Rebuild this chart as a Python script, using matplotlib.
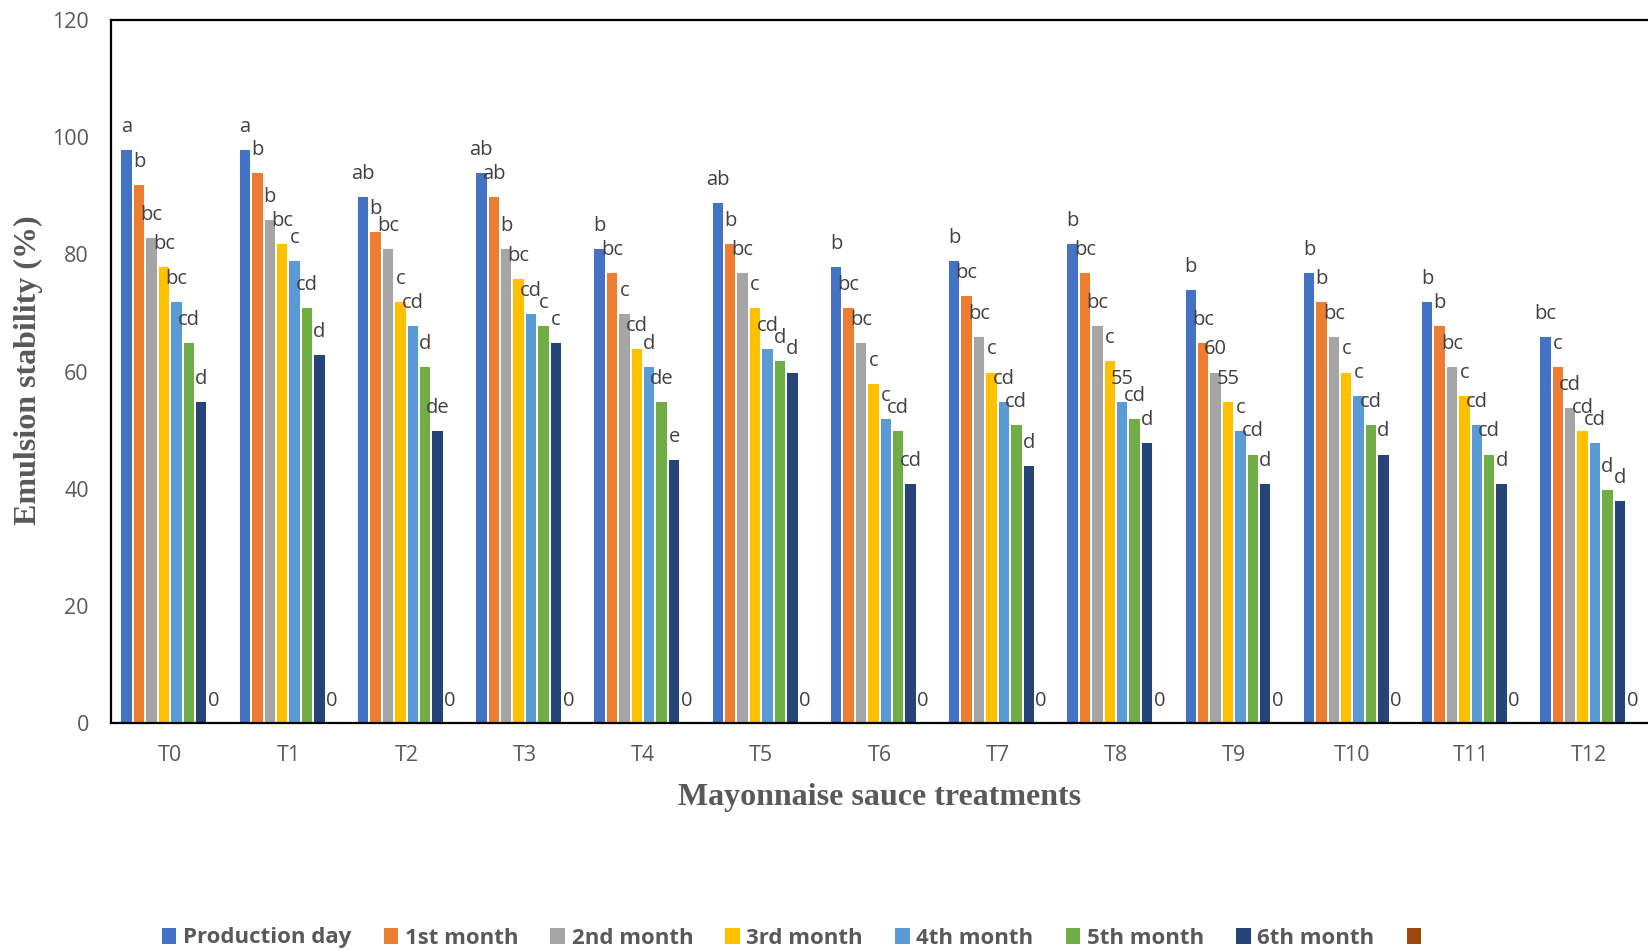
import numpy as np
import matplotlib
matplotlib.use("Agg")
import matplotlib.pyplot as plt
from matplotlib.patches import Patch

treatments = ['T0', 'T1', 'T2', 'T3', 'T4', 'T5', 'T6', 'T7', 'T8', 'T9', 'T10', 'T11', 'T12']
series_names = ['Production day', '1st month', '2nd month', '3rd month',
                '4th month', '5th month', '6th month', '']
colors = ['#4472C4', '#ED7D31', '#A5A5A5', '#FFC000', '#5B9BD5', '#70AD47', '#264478', '#9E480E']

production_day = [98, 98, 90, 94, 81, 89, 78, 79, 82, 74, 77, 72, 66]
month_1 = [92, 94, 84, 90, 77, 82, 71, 73, 77, 65, 72, 68, 61]
month_2 = [83, 86, 81, 81, 70, 77, 65, 66, 68, 60, 66, 61, 54]
month_3 = [78, 82, 72, 76, 64, 71, 58, 60, 62, 55, 60, 56, 50]
month_4 = [72, 79, 68, 70, 61, 64, 52, 55, 55, 50, 56, 51, 48]
month_5 = [65, 71, 61, 68, 55, 62, 50, 51, 52, 46, 51, 46, 40]
month_6 = [55, 63, 50, 65, 45, 60, 41, 44, 48, 41, 46, 41, 38]
extra = [0] * 13

# letters shown above each bar (per treatment, per series)
letters = [
    ['a', 'b', 'bc', 'bc', 'bc', 'cd', 'd', '0'],
    ['a', 'b', 'b', 'bc', 'c', 'cd', 'd', '0'],
    ['ab', 'b', 'bc', 'c', 'cd', 'd', 'de', '0'],
    ['ab', 'ab', 'b', 'bc', 'cd', 'c', 'c', '0'],
    ['b', 'bc', 'c', 'cd', 'd', 'de', 'e', '0'],
    ['ab', 'b', 'bc', 'c', 'cd', 'd', 'd', '0'],
    ['b', 'bc', 'bc', 'c', 'c', 'cd', 'cd', '0'],
    ['b', 'bc', 'bc', 'c', 'cd', 'cd', 'd', '0'],
    ['b', 'bc', 'bc', 'c', '55', 'cd', 'd', '0'],
    ['b', 'bc', '60', '55', 'c', 'cd', 'd', '0'],
    ['b', 'b', 'bc', 'c', 'c', 'cd', 'd', '0'],
    ['b', 'b', 'bc', 'c', 'cd', 'cd', 'd', '0'],
    ['bc', 'c', 'cd', 'cd', 'cd', 'd', 'd', '0'],
]

all_series = [production_day, month_1, month_2, month_3, month_4, month_5, month_6, extra]

text_gray = '#595959'
label_gray = '#404040'

fig = plt.figure(figsize=(16.48, 9.5), dpi=100)
ax = fig.add_axes([111 / 1648, 1 - 723 / 950, 1 - 111 / 1648, (723 - 20) / 950])

x = np.arange(len(treatments))
w = 0.105
for i, (vals, col) in enumerate(zip(all_series, colors)):
    pos = x + (i - 3.5) * w
    ax.bar(pos, vals, width=w, color=col, edgecolor='white', linewidth=1.4)
    for j, v in enumerate(vals):
        ax.annotate(letters[j][i], (pos[j], v), xytext=(0, 12.3), textcoords='offset points',
                    ha='center', va='baseline', fontsize=14.5, color=label_gray,
                    family='Open Sans')

ax.set_xlim(-0.5, 12.5)
ax.set_ylim(0, 120)
ax.set_yticks(range(0, 121, 20))
ax.set_xticks(x)
ax.set_xticklabels(treatments)
for lab in ax.get_xticklabels() + ax.get_yticklabels():
    lab.set_family('Open Sans')
    lab.set_fontsize(15.5)
    lab.set_color(text_gray)
ax.tick_params(axis='y', length=0, pad=16)
ax.tick_params(axis='x', length=0, pad=16)

ax.spines['right'].set_visible(False)
for s in ['left', 'top', 'bottom']:
    ax.spines[s].set_linewidth(1.6)
    ax.spines[s].set_color('black')

fig.text(880 / 1648, 1 - 797 / 950, 'Mayonnaise sauce treatments', ha='center', va='center',
         fontsize=23, fontweight='bold', family='Liberation Serif', color=text_gray)
fig.text(28 / 1648, 1 - 370 / 950, 'Emulsion stability (%)', ha='center', va='center',
         rotation=90, fontsize=23, fontweight='bold', family='Liberation Serif', color=text_gray)

handles = [Patch(facecolor=c, edgecolor='none') for c in colors]
leg = fig.legend(handles, series_names, loc='center left', bbox_to_anchor=(142 / 1648, 1 - 938 / 950),
                 ncol=8, frameon=False, handlelength=0.65, handleheight=0.75, handletextpad=0.3,
                 columnspacing=1.45, prop={'family': 'Open Sans', 'weight': 'bold', 'size': 16})
for t in leg.get_texts():
    t.set_color(text_gray)

fig.savefig('out.png', dpi=100)
